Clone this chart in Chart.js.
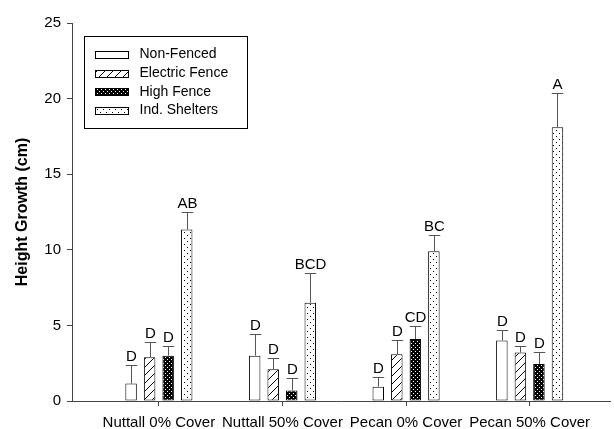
<!DOCTYPE html>
<html>
<head>
<meta charset="utf-8">
<script src="https://cdn.jsdelivr.net/npm/chart.js@4/dist/chart.umd.min.js"></script>
<style>
  html, body { margin: 0; padding: 0; background: #fff; }
  #wrap { width: 614px; height: 429px; }
</style>
</head>
<body>
<div id="wrap"><canvas id="c" width="614" height="429"></canvas></div>
<script>
// Site / cover combinations
const categories = ['Nuttall 0% Cover', 'Nuttall 50% Cover', 'Pecan 0% Cover', 'Pecan 50% Cover'];
const seriesNames = ['Non-Fenced', 'Electric Fence', 'High Fence', 'Ind. Shelters'];

// Mean height growth (cm)
const nonFenced     = [1.15, 3.0, 0.95, 4.0];
const electricFence = [2.9, 2.1, 3.1, 3.2];
const highFence     = [3.0, 0.7, 4.1, 2.45];
const indShelters   = [11.35, 6.5, 9.9, 18.1];

// Standard error (upper bar only)
const nonFencedErr     = [1.25, 1.4, 0.65, 0.7];
const electricFenceErr = [1.0, 0.75, 0.95, 0.45];
const highFenceErr     = [0.62, 0.8, 0.85, 0.82];
const indSheltersErr   = [1.15, 1.95, 1.1, 2.3];

// Mean separation letters
const nonFencedLetters     = ['D', 'D', 'D', 'D'];
const electricFenceLetters = ['D', 'D', 'D', 'D'];
const highFenceLetters     = ['D', 'D', 'CD', 'D'];
const indSheltersLetters   = ['AB', 'BCD', 'BC', 'A'];

const yTicks = [0, 5, 10, 15, 20, 25];

const FONT = '"Liberation Sans", Arial, sans-serif';

// ---- fill patterns ----
function makeTile(w, h, draw) {
  const t = document.createElement('canvas');
  t.width = w; t.height = h;
  const g = t.getContext('2d');
  draw(g, w, h);
  return document.getElementById('c').getContext('2d').createPattern(t, 'repeat');
}
const patWhite = '#ffffff';
const patHatch = makeTile(8, 8, (g, w, h) => {
  g.fillStyle = '#fff'; g.fillRect(0, 0, w, h);
  g.strokeStyle = '#000'; g.lineWidth = 1;
  g.beginPath();
  g.moveTo(-1, h + 1); g.lineTo(w + 1, -1);
  g.moveTo(-1, 1); g.lineTo(1, -1);
  g.moveTo(w - 1, h + 1); g.lineTo(w + 1, h - 1);
  g.stroke();
});
const patBlackDots = makeTile(4, 4, (g, w, h) => {
  g.fillStyle = '#000'; g.fillRect(0, 0, w, h);
  g.fillStyle = '#fff';
  g.fillRect(1, 1, 1, 1);
  g.fillRect(3, 3, 1, 1);
});
const patWhiteDots = makeTile(6, 6, (g, w, h) => {
  g.fillStyle = '#fff'; g.fillRect(0, 0, w, h);
  g.fillStyle = '#000';
  g.fillRect(1, 1, 1, 1);
  g.fillRect(4, 4, 1, 1);
});

const fills = [patWhite, patHatch, patBlackDots, patWhiteDots];
const values = [nonFenced, electricFence, highFence, indShelters];
const errs = [nonFencedErr, electricFenceErr, highFenceErr, indSheltersErr];
const letters = [nonFencedLetters, electricFenceLetters, highFenceLetters, indSheltersLetters];

const datasets = seriesNames.map((name, s) => ({
  label: name,
  data: values[s].map((v, i) => ({ x: i + 1, y: v })),
  errors: errs[s],
  letters: letters[s],
  backgroundColor: fills[s],
  borderColor: '#000',
  borderWidth: 1,
  borderSkipped: false,
  categoryPercentage: 0.6,
  barPercentage: 0.62
}));

// Upper error bars with letters above the caps
const errorBars = {
  id: 'errorBars',
  afterDatasetsDraw(chart) {
    const ctx = chart.ctx;
    const y = chart.scales.y;
    ctx.save();
    chart.data.datasets.forEach((ds, di) => {
      const meta = chart.getDatasetMeta(di);
      meta.data.forEach((bar, i) => {
        const v = ds.data[i].y;
        const top = y.getPixelForValue(v + ds.errors[i]);
        const x = Math.round(bar.x) + 0.5;
        const half = bar.width / 2;
        ctx.strokeStyle = '#555';
        ctx.lineWidth = 1;
        ctx.beginPath();
        ctx.moveTo(x, bar.y);
        ctx.lineTo(x, Math.round(top) + 0.5);
        ctx.moveTo(x - half, Math.round(top) + 0.5);
        ctx.lineTo(x + half, Math.round(top) + 0.5);
        ctx.stroke();
        ctx.fillStyle = '#000';
        ctx.font = '15px ' + FONT;
        ctx.textAlign = 'center';
        ctx.textBaseline = 'alphabetic';
        ctx.fillText(ds.letters[i], x, top - 4);
      });
    });
    ctx.restore();
  }
};

// Boxed legend in the upper-left of the plot
const boxLegend = {
  id: 'boxLegend',
  afterDraw(chart) {
    const ctx = chart.ctx;
    const a = chart.chartArea;
    const bx = a.left + 12.5, by = a.top + 13.5, bw = 163, bh = 92;
    ctx.save();
    ctx.strokeStyle = '#000';
    ctx.lineWidth = 1;
    ctx.fillStyle = '#fff';
    ctx.fillRect(bx, by, bw, bh);
    ctx.strokeRect(bx, by, bw, bh);
    ctx.font = '14px ' + FONT;
    ctx.textBaseline = 'middle';
    ctx.textAlign = 'left';
    chart.data.datasets.forEach((ds, i) => {
      const cy = by + 18 + i * 18.7;
      const sx = bx + 11, sy = Math.round(cy - 3.5) + 0.5;
      ctx.fillStyle = ds.backgroundColor;
      ctx.fillRect(sx, sy, 33, 7);
      ctx.strokeStyle = '#000';
      ctx.strokeRect(sx, sy, 33, 7);
      ctx.fillStyle = '#000';
      ctx.fillText(ds.label, bx + 55, cy);
    });
    ctx.restore();
  }
};

new Chart(document.getElementById('c'), {
  type: 'bar',
  data: { datasets },
  plugins: [errorBars, boxLegend],
  options: {
    responsive: false,
    animation: false,
    layout: { padding: { top: 23, right: 4, bottom: 0, left: 0 } },
    plugins: { legend: { display: false }, tooltip: { enabled: false } },
    scales: {
      x: {
        type: 'linear',
        min: 0.297,
        max: 4.65,
        offset: false,
        afterBuildTicks(scale) {
          scale.ticks = categories.map((_, i) => ({ value: i + 1 }));
        },
        afterFit(scale) { scale.height = 28; },
        ticks: {
          callback: (v) => categories[v - 1],
          color: '#000',
          font: { family: FONT, size: 15 },
          padding: 8,
          maxRotation: 0,
          autoSkip: false
        },
        grid: { offset: false, drawOnChartArea: false, drawTicks: true, tickLength: 5, color: '#444' },
        border: { display: true, color: '#444', width: 1 }
      },
      y: {
        min: 0,
        max: 25,
        afterBuildTicks(scale) {
          scale.ticks = yTicks.map(v => ({ value: v }));
        },
        afterFit(scale) { scale.width = 72; },
        ticks: {
          color: '#000',
          font: { family: FONT, size: 15 },
          padding: 6
        },
        grid: { drawOnChartArea: false, drawTicks: true, tickLength: 5, color: '#444' },
        border: { display: true, color: '#444', width: 1 },
        title: {
          display: true,
          text: 'Height Growth (cm)',
          color: '#000',
          font: { family: FONT, size: 16, weight: 'bold' },
          padding: { top: 13, bottom: 0 }
        }
      }
    }
  }
});
</script>
</body>
</html>
